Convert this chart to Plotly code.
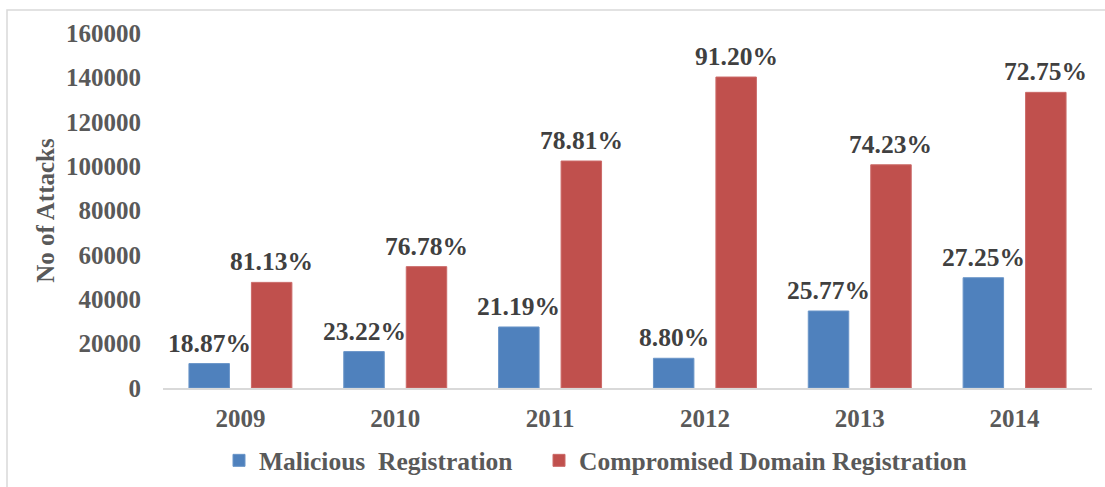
import plotly.graph_objects as go

years = ["2009", "2010", "2011", "2012", "2013", "2014"]
malicious = [11000, 16400, 27500, 13400, 34700, 49700]
compromised = [47600, 54700, 102300, 140150, 100600, 133250]
malicious_pct = ["18.87%", "23.22%", "21.19%", "8.80%", "25.77%", "27.25%"]
compromised_pct = ["81.13%", "76.78%", "78.81%", "91.20%", "74.23%", "72.75%"]
y_ticks = [0, 20000, 40000, 60000, 80000, 100000, 120000, 140000, 160000]

FONT = "'Liberation Serif', 'Times New Roman', Times, serif"
W, H = 1105, 487
ML, MR, MT, MB = 163, 13, 33, 99
PW, PH = W - ML - MR, H - MT - MB
BARGAP, GROUPGAP = 0.193, 0.352
CAT_W = PW / len(years)
OFFSET = (1 - BARGAP) / 2 * CAT_W / 2  # px from category centre to bar centre

fig = go.Figure()
fig.add_trace(go.Bar(
    x=years, y=malicious, name="Malicious  Registration",
    marker=dict(color="#4F81BD", line=dict(color="#6A95C8", width=1)),
    legend="legend",
))
fig.add_trace(go.Bar(
    x=years, y=compromised, name="Compromised Domain Registration",
    marker=dict(color="#C0504D", line=dict(color="#CB6A68", width=1)),
    legend="legend2",
))

# category axes take serial numbers (0..n-1) for annotation positions
lab_font = dict(family=FONT, size=25.5, color="#404040", weight="bold")
for i, (v, t) in enumerate(zip(malicious, malicious_pct)):
    fig.add_annotation(x=i, y=v, xref="x", yref="y", text=t, showarrow=False,
                       xshift=-OFFSET, yshift=4, yanchor="bottom", xanchor="center", font=lab_font)
for i, (v, t) in enumerate(zip(compromised, compromised_pct)):
    fig.add_annotation(x=i, y=v, xref="x", yref="y", text=t, showarrow=False,
                       xshift=OFFSET, yshift=4, yanchor="bottom", xanchor="center", font=lab_font)

# light outer frame (cropped on right/bottom in the reference)
x0 = (7 - ML) / PW
x1 = (1115 - ML) / PW
y1 = (H - MB - 10) / PH
y0 = (H - MB - 500) / PH
fig.add_shape(type="rect", xref="paper", yref="paper", x0=x0, x1=x1, y0=y0, y1=y1,
              line=dict(color="#D9D9D9", width=1.5), fillcolor="rgba(0,0,0,0)", layer="below")

leg_font = dict(family=FONT, size=25.5, color="#595959", weight="bold")
fig.update_layout(
    width=W, height=H,
    margin=dict(l=ML, r=MR, t=MT, b=MB, autoexpand=False),
    paper_bgcolor="white", plot_bgcolor="white",
    barmode="group", bargap=BARGAP, bargroupgap=GROUPGAP,
    font=dict(family=FONT, size=25, color="#595959", weight="bold"),
    showlegend=True,
    legend=dict(orientation="h", x=(219 - ML) / PW, xanchor="left", y=-0.205, yanchor="middle",
                font=leg_font, bgcolor="rgba(0,0,0,0)"),
    legend2=dict(orientation="h", x=(539 - ML) / PW, xanchor="left", y=-0.205, yanchor="middle",
                 font=leg_font, bgcolor="rgba(0,0,0,0)"),
)
fig.update_xaxes(
    type="category", range=[-0.5, len(years) - 0.5], autorange=False,
    showline=True, linecolor="#D9D9D9", linewidth=1.5, ticks="", showgrid=False,
    tickfont=dict(family=FONT, size=25, color="#595959", weight="bold"), ticklabelstandoff=7,
)
fig.update_yaxes(
    range=[0, 160000], autorange=False, tickvals=y_ticks, ticktext=[str(v) for v in y_ticks],
    showline=False, showgrid=False, zeroline=False, ticks="",
    tickfont=dict(family=FONT, size=25, color="#595959", weight="bold"), ticklabelstandoff=21,
    title=dict(text="No of Attacks", font=dict(family=FONT, size=25, color="#595959", weight="bold"), standoff=4),
)

fig.write_html("out.html", config={"displayModeBar": False},
               post_script="document.body.style.margin='0';document.body.style.overflow='hidden';")
